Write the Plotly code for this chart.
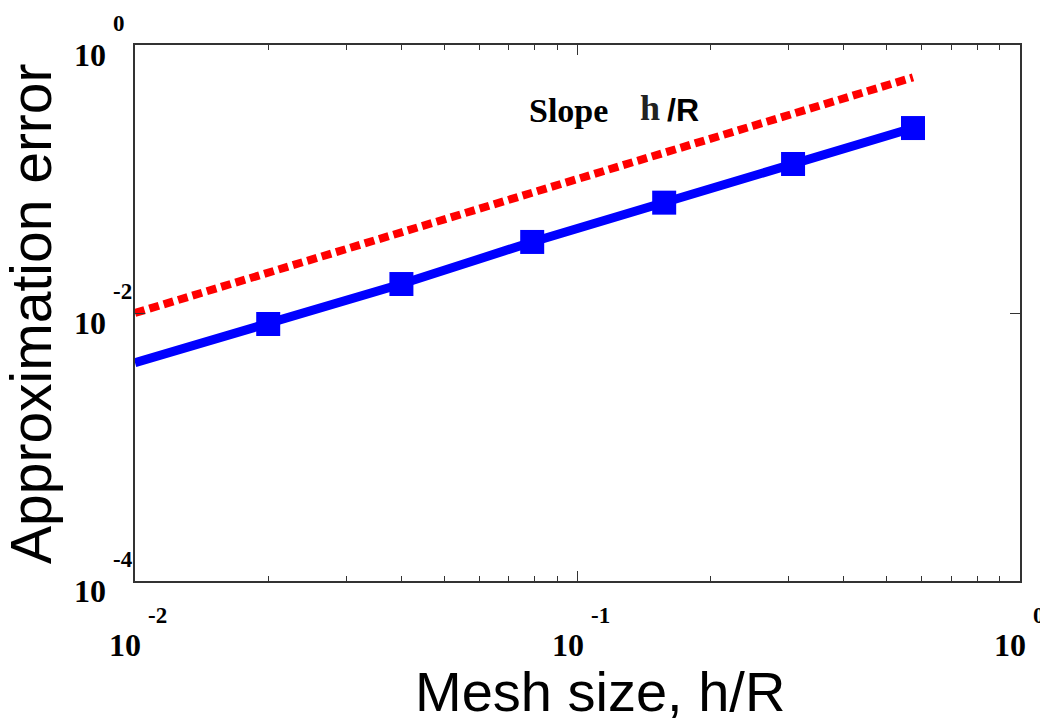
import numpy as np
import plotly.graph_objects as go

# mesh sizes h/R and measured approximation error
mesh_size = [0.01, 0.02, 0.04, 0.079, 0.157, 0.307, 0.573]
approx_error = [0.00426, 0.00828, 0.01645, 0.0339, 0.0666, 0.1294, 0.240]
marker_sizes = [0, 24, 24, 24, 24, 24, 24]

# reference slope line (error = h/R)
slope_x = [0.01, 0.573]
slope_y = [0.01, 0.573]

# tick labels, drawn as "10" plus a raised exponent
x_tick_vals = [0.01, 0.1, 1.0]
x_tick_exp = ["-2", "-1", "0"]
y_tick_vals = [1e-4, 1e-2, 1.0]
y_tick_exp = ["-4", "-2", "0"]

serif = "Liberation Serif"
sans = "Liberation Sans"

fig = go.Figure()

fig.add_trace(
    go.Scatter(
        x=slope_x,
        y=slope_y,
        mode="lines",
        line=dict(color="#ff0000", width=8, dash="10px,5px"),
        showlegend=False,
    )
)

fig.add_trace(
    go.Scatter(
        x=mesh_size,
        y=approx_error,
        mode="lines+markers",
        line=dict(color="#0000ff", width=9),
        marker=dict(symbol="square", size=marker_sizes, color="#0000ff",
                    opacity=1, line=dict(width=0)),
        showlegend=False,
    )
)

axis_common = dict(
    type="log",
    showgrid=False,
    zeroline=False,
    showline=True,
    linecolor="#333333",
    linewidth=1.5,
    mirror="ticks",
    ticks="inside",
    tickcolor="#333333",
    ticklen=10,
    tickwidth=1.2,
    showticklabels=False,
)

fig.update_xaxes(
    range=[-2, 0],
    tickvals=x_tick_vals,
    minor=dict(ticks="inside", ticklen=5, tickcolor="#333333", tickwidth=1,
               dtick="D1", showgrid=False),
    **axis_common,
)
fig.update_yaxes(
    range=[-4, 0],
    tickvals=y_tick_vals,
    **axis_common,
)

annotations = []
# x tick labels
for v, e in zip(x_tick_vals, x_tick_exp):
    annotations.append(dict(
        x=np.log10(v), xref="x", y=0, yref="paper",
        text="<b>10</b>", showarrow=False,
        xanchor="right", yanchor="middle", xshift=8, yshift=-64,
        font=dict(family=serif, size=32, color="black"),
    ))
    annotations.append(dict(
        x=np.log10(v), xref="x", y=0, yref="paper",
        text=f"<b>{e}</b>", showarrow=False,
        xanchor="left", yanchor="middle", xshift=11, yshift=-34,
        font=dict(family=serif, size=23, color="black"),
    ))
# y tick labels
for v, e in zip(y_tick_vals, y_tick_exp):
    annotations.append(dict(
        x=0, xref="paper", y=np.log10(v), yref="y",
        text="<b>10</b>", showarrow=False,
        xanchor="right", yanchor="middle", xshift=-27, yshift=-10,
        font=dict(family=serif, size=32, color="black"),
    ))
    annotations.append(dict(
        x=0, xref="paper", y=np.log10(v), yref="y",
        text=f"<b>{e}</b>", showarrow=False,
        xanchor="left", yanchor="middle", xshift=-24, yshift=22,
        font=dict(family=serif, size=23, color="black"),
    ))

# axis titles (positions in window pixels)
annotations.append(dict(
    x=600, y=691, xref="paper", yref="paper", text="Mesh size, h/R",
    showarrow=False, xanchor="center", yanchor="middle",
    font=dict(family=sans, size=56, color="black"),
))
annotations.append(dict(
    x=31, y=314, xref="paper", yref="paper", text="Approximation error",
    showarrow=False, xanchor="center", yanchor="middle", textangle=-90,
    font=dict(family=sans, size=57, color="black"),
))

# slope label
annotations.append(dict(
    x=568, y=110, xref="paper", yref="paper", text="<b>Slope</b>",
    showarrow=False, xanchor="center", yanchor="middle",
    font=dict(family=serif, size=34, color="black"),
))
annotations.append(dict(
    x=650, y=108, xref="paper", yref="paper", text="<b>h</b>",
    showarrow=False, xanchor="center", yanchor="middle",
    font=dict(family=serif, size=36, color="#222222"),
))
annotations.append(dict(
    x=683, y=110, xref="paper", yref="paper", text="<b>/R</b>",
    showarrow=False, xanchor="center", yanchor="middle",
    font=dict(family=sans, size=32, color="black"),
))

# the page body adds an 8px margin around the figure
OFF = 8
W, H = 1048 - OFF, 719 - OFF
L, R, T, B = 135 - OFF, 28, 45 - OFF, 138
pw, ph = W - L - R, H - T - B
# convert the window-pixel positions above into paper coordinates
for a in annotations:
    if a["xref"] == "paper" and a["x"] > 1:
        a["x"] = (a["x"] - OFF - L) / pw
    if a["yref"] == "paper" and a["y"] > 1:
        a["y"] = 1 - (a["y"] - OFF - T) / ph

fig.update_layout(
    width=W,
    height=H,
    margin=dict(l=L, r=R, t=T, b=B),
    paper_bgcolor="white",
    plot_bgcolor="white",
    annotations=annotations,
)

fig.write_html("out.html")
